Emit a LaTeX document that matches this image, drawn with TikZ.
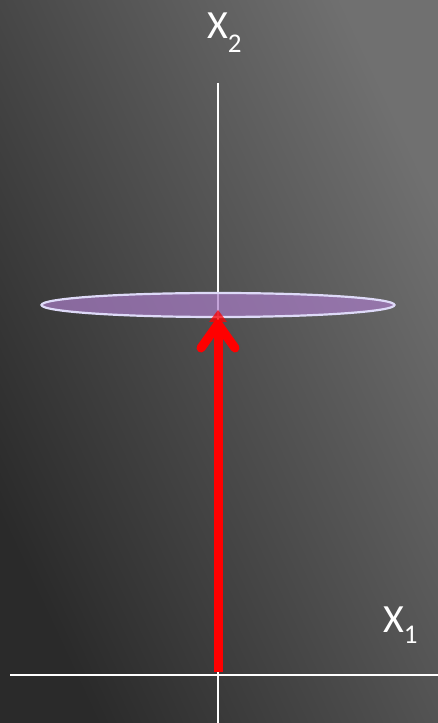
\documentclass[tikz,border=0pt]{standalone}
\usepackage{fontspec}
\setmainfont{Carlito}
\usetikzlibrary{shapes.geometric}
\begin{document}
\begin{tikzpicture}[x=1pt,y=1pt,
  axisline/.style={draw=white,line width=1.8pt},
  lbl/.style={text=white,inner sep=0pt,anchor=base west,font=\fontsize{40}{40}\selectfont},
  vec/.style={draw=red,line width=9pt},
  disc/.style={ellipse,fill={rgb,255:red,170;green,125;blue,200},fill opacity=0.7,draw={rgb,255:red,222;green,218;blue,248},draw opacity=1,line width=2.2pt,inner sep=0pt}]
\definecolor{bgdark}{RGB}{42,42,42}
\definecolor{bglight}{RGB}{112,112,112}
\useasboundingbox (0,0) rectangle (438,723);
\shade[top color=bglight,bottom color=bgdark,shading angle=-65] (0,0) rectangle (438,723);
% axes
\coordinate (vtop) at (218,640);
\coordinate (vbot) at (218,0);
\coordinate (hl) at (10,48);
\coordinate (hr) at (438,48);
\draw[axisline] (vtop) -- (vbot);
\draw[axisline] (hl) -- (hr);
% red vector
\coordinate (vs) at (218,51);
\coordinate (ve) at (218,398);
\coordinate (tipl) at (201,375);
\coordinate (tip) at (218,399);
\coordinate (tipr) at (235,375);
\draw[vec] (vs) -- (ve);
\draw[vec,line cap=round,line join=round] (tipl) -- (tip) -- (tipr);
% disc
\node[disc,minimum width=353pt,minimum height=24pt] (plane) at (218,418) {};
\fill[red,opacity=0.75] (218,413) -- (209,401) -- (227,401) -- cycle;
% labels
\node[lbl] (x2) at (207,684) {X\raisebox{-14pt}{\fontsize{27}{27}\selectfont 2}};
\node[lbl] (x1) at (383,90) {X\raisebox{-11pt}{\fontsize{27}{27}\selectfont 1}};
\end{tikzpicture}
\end{document}
